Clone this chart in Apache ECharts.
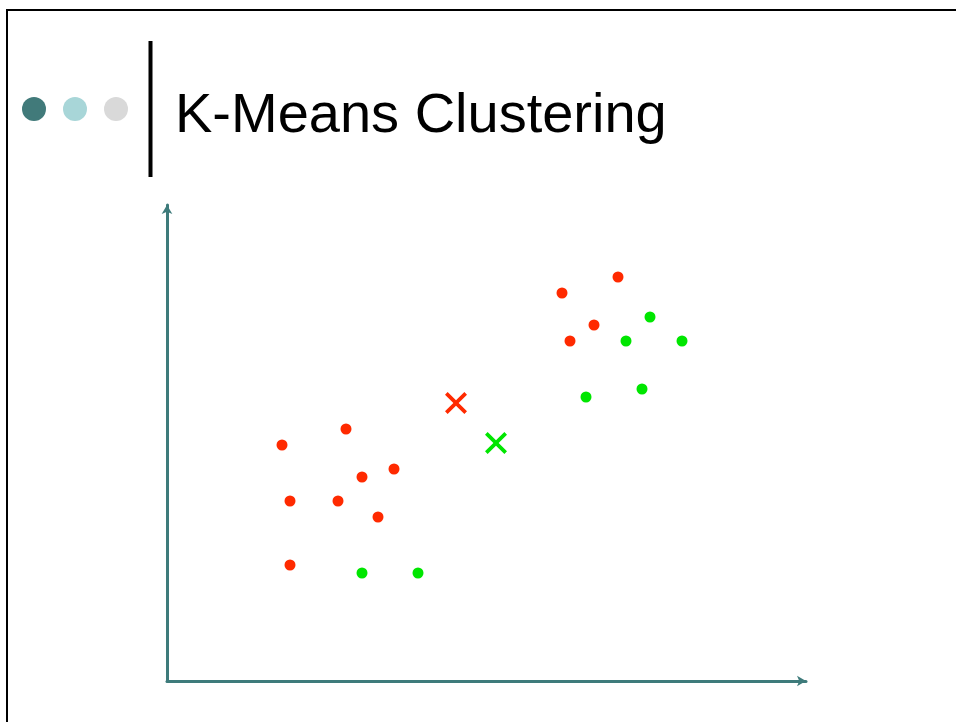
<!DOCTYPE html>
<html>
<head>
<meta charset="utf-8">
<script src="https://cdn.jsdelivr.net/npm/echarts@6/dist/echarts.min.js"></script>
<style>
  html, body { margin: 0; padding: 0; background: #fff; }
  #chart { width: 956px; height: 722px; }
</style>
</head>
<body>
<div id="chart"></div>
<script>
// points, x/y measured from the axis origin (1 unit = 1px of the slide)
var redX = [179, 115, 227, 195, 123, 171, 211, 123, 451, 395, 427, 403];
var redY = [252, 236, 212, 204, 180, 180, 164, 116, 404, 388, 356, 340];
var greenX = [195, 251, 483, 459, 515, 419, 475];
var greenY = [108, 108, 364, 340, 340, 284, 292];
// cluster centres (the two crosses)
var centreX = [289, 329];
var centreY = [278, 238];
var centreColors = ["#ff2a00", "#00e600"];

var titleText = "K-Means Clustering";

var axisColor = "#3e7b7b";
var crossPath = "path://M0,2.4L2.4,0L10,7.6L17.6,0L20,2.4L12.4,10L20,17.6L17.6,20L10,12.4L2.4,20L0,17.6L7.6,10Z";

function zipPts(xs, ys) {
	return xs.map(function(x, i) { return [x, ys[i]]; });
}

var voChart = echarts.init(document.getElementById("chart"), null, { renderer: "canvas" });

var voOption = {
	animation: false,
	backgroundColor: "#fff",
	title: {
		text: titleText,
		left: 175,
		top: 89,
		padding: 0,
		textStyle: {
			fontFamily: "Liberation Sans, Arial, sans-serif",
			fontSize: 56,
			fontWeight: "normal",
			color: "#000"
		}
	},
	graphic: [
		// slide frame (left + top edge)
		{
			type: "polyline",
			shape: { points: [[7, 722], [7, 10], [956, 10]] },
			style: { stroke: "#000", lineWidth: 2, fill: null }
		},
		// three bullets
		{ type: "circle", shape: { cx: 34, cy: 109, r: 12 }, style: { fill: "#417a7a" } },
		{ type: "circle", shape: { cx: 75, cy: 109, r: 12 }, style: { fill: "#a8d6d8" } },
		{ type: "circle", shape: { cx: 116, cy: 109, r: 12 }, style: { fill: "#d9d9d9" } },
		// divider
		{
			type: "line",
			shape: { x1: 150.5, y1: 41, x2: 150.5, y2: 177 },
			style: { stroke: "#000", lineWidth: 4 }
		}
	],
	grid: { left: 167, right: 150, top: 205, bottom: 41 },
	xAxis: {
		type: "value",
		min: 0,
		max: 639,
		axisLine: {
			show: true,
			lineStyle: { color: axisColor, width: 3 },
			symbol: ["none", "arrow"],
			symbolSize: [8, 9]
		},
		axisTick: { show: false },
		axisLabel: { show: false },
		splitLine: { show: false }
	},
	yAxis: {
		type: "value",
		min: 0,
		max: 476,
		axisLine: {
			show: true,
			lineStyle: { color: axisColor, width: 3 },
			symbol: ["none", "arrow"],
			symbolSize: [8, 9]
		},
		axisTick: { show: false },
		axisLabel: { show: false },
		splitLine: { show: false }
	},
	series: [
		{
			name: "red",
			type: "scatter",
			symbolSize: 11,
			itemStyle: { color: "#ff2a00", opacity: 1 },
			data: zipPts(redX, redY)
		},
		{
			name: "green",
			type: "scatter",
			symbolSize: 11,
			itemStyle: { color: "#00e600", opacity: 1 },
			data: zipPts(greenX, greenY)
		},
		{
			name: "centres",
			type: "scatter",
			symbol: crossPath,
			symbolSize: 22,
			data: zipPts(centreX, centreY).map(function(p, i) {
				return { value: p, itemStyle: { color: centreColors[i], opacity: 1 } };
			})
		}
	]
};

voChart.setOption(voOption);
</script>
</body>
</html>
